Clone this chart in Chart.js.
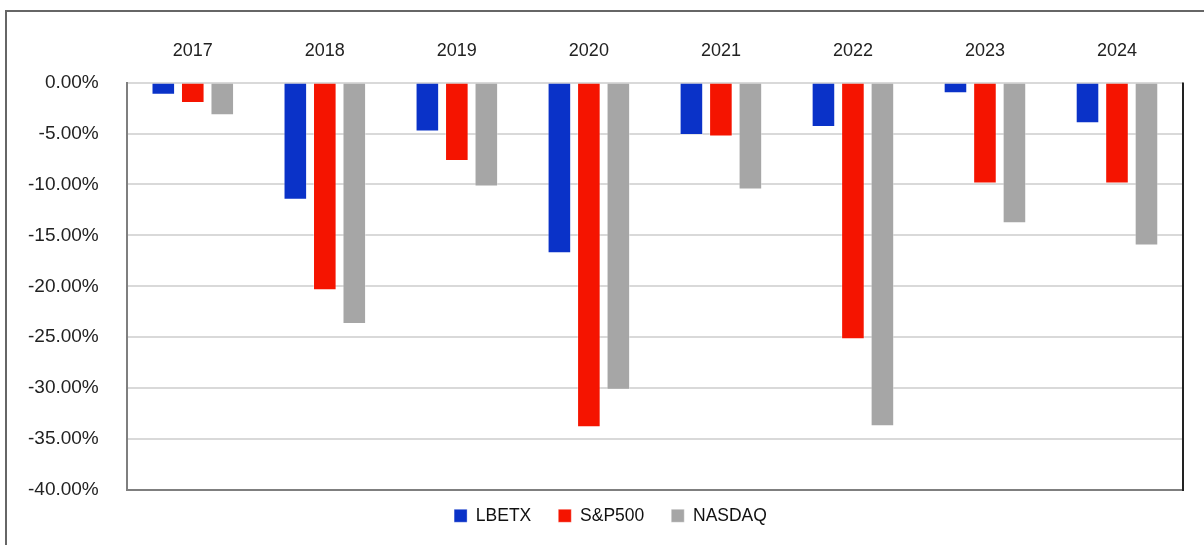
<!DOCTYPE html>
<html>
<head>
<meta charset="utf-8">
<script src="https://cdn.jsdelivr.net/npm/chart.js@4"></script>
<style>
	html, body { margin: 0; padding: 0; background: #fff; overflow: hidden; }
	#wrap { position: relative; width: 1204px; height: 545px; }
	#frame { position: absolute; left: 5px; top: 10px; width: 1300px; height: 600px; border-top: 2px solid #666; border-left: 2px solid #666; }
	canvas { position: absolute; left: 0; top: 0; }
</style>
</head>
<body>
<div id="wrap">
	<div id="frame"></div>
	<canvas id="chart" width="1204" height="545"></canvas>
</div>
<script>
const years = ["2017", "2018", "2019", "2020", "2021", "2022", "2023", "2024"];
const lbetx = [-1.2, -11.5, -4.8, -16.75, -5.15, -4.35, -1.05, -4.0];
const sp500 = [-2.0, -20.4, -7.7, -33.85, -5.3, -25.2, -9.9, -9.9];
const nasdaq = [-3.2, -23.7, -10.2, -30.15, -10.5, -33.75, -13.8, -16.0];
const yTicks = [0, -5, -10, -15, -20, -25, -30, -35, -40];

const frame = {
	id: "frame",
	afterDatasetsDraw(chart) {
		const { ctx, chartArea: a } = chart;
		ctx.save();
		ctx.lineWidth = 2;
		ctx.strokeStyle = "#7f7f7f";
		ctx.beginPath();
		ctx.moveTo(a.left, a.bottom);
		ctx.lineTo(a.right, a.bottom);
		ctx.stroke();
		ctx.strokeStyle = "#222";
		ctx.beginPath();
		ctx.moveTo(a.right, a.top);
		ctx.lineTo(a.right, a.bottom + 1);
		ctx.stroke();
		ctx.restore();
	}
};

// legend sits lower and more to the right than chart.js would put it
const legendBox = {
	id: "legendBox",
	beforeInit(chart) {
		const fit = chart.legend.fit;
		chart.legend.fit = function () {
			fit.call(this);
			this.height = 55;
		};
	},
	afterLayout(chart) {
		chart.legend.top -= 10;
		chart.legend.bottom -= 10;
		chart.legend.left += 19;
		chart.legend.right += 19;
	}
};

const bar = (label, data, color) => ({
	label,
	data,
	backgroundColor: color,
	borderColor: "rgba(255,255,255,0.35)",
	borderWidth: 1,
	categoryPercentage: 0.67,
	barPercentage: 0.8
});

new Chart(document.getElementById("chart"), {
	type: "bar",
	data: {
		labels: years,
		datasets: [
			bar("LBETX", lbetx, "#0a32c8"),
			bar("S&P500", sp500, "#f51400"),
			bar("NASDAQ", nasdaq, "#a6a6a6")
		]
	},
	options: {
		responsive: false,
		animation: false,
		layout: { padding: { left: 0, right: 21, top: 19, bottom: 0 } },
		plugins: {
			tooltip: { enabled: false },
			legend: {
				position: "bottom",
				labels: {
					boxWidth: 13,
					boxHeight: 13,
					padding: 27,
					color: "#111",
					font: { family: "Liberation Sans", size: 17.5 }
				}
			}
		},
		scales: {
			x: {
				position: "top",
				grid: { display: false, drawTicks: false },
				border: { display: false },
				ticks: { color: "#222", padding: 21, font: { family: "Liberation Sans", size: 18 } }
			},
			y: {
				min: -40,
				max: 0,
				afterBuildTicks(scale) {
					scale.ticks = yTicks.map(v => ({ value: v }));
				},
				grid: { color: "#d9d9d9", lineWidth: 2, drawTicks: false },
				border: { color: "#7f7f7f", width: 2 },
				ticks: {
					color: "#222",
					padding: 28,
					font: { family: "Liberation Sans", size: 19 },
					callback: v => v.toFixed(2) + "%"
				}
			}
		}
	},
	plugins: [frame, legendBox]
});
</script>
</body>
</html>
